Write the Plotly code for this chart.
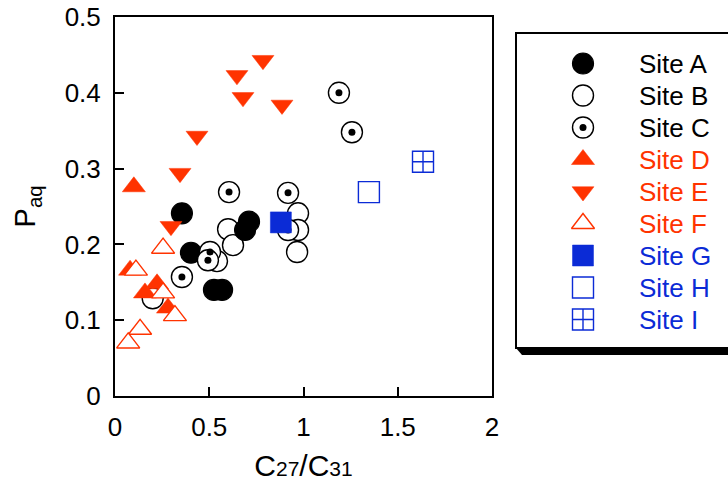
import plotly.graph_objects as go

# ---- data ----
site_a_x = [0.355, 0.403, 0.525, 0.568, 0.711, 0.690]
site_a_y = [0.241, 0.189, 0.140, 0.140, 0.230, 0.219]

site_b_x = [0.200, 0.600, 0.626, 0.541, 0.971, 0.971, 0.966]
site_b_y = [0.129, 0.220, 0.199, 0.178, 0.241, 0.219, 0.190]

site_c_x = [0.355, 0.605, 0.504, 0.493, 0.918, 0.918, 1.188, 1.257]
site_c_y = [0.157, 0.269, 0.190, 0.179, 0.268, 0.219, 0.400, 0.348]

site_d_x = [0.100, 0.223, 0.159, 0.281, 0.080]
site_d_y = [0.276, 0.148, 0.136, 0.116, 0.166]

site_e_x = [0.785, 0.647, 0.679, 0.886, 0.435, 0.345, 0.297]
site_e_y = [0.443, 0.423, 0.394, 0.384, 0.343, 0.294, 0.224]

site_f_x = [0.255, 0.111, 0.255, 0.318, 0.133, 0.070]
site_f_y = [0.195, 0.166, 0.136, 0.106, 0.088, 0.070]

site_g_x = [0.880]
site_g_y = [0.229]

site_h_x = [1.347]
site_h_y = [0.269]

site_i_x = [1.634]
site_i_y = [0.309]

x_ticks = [0, 0.5, 1, 1.5, 2]
x_tick_labels = ["0", "0.5", "1", "1.5", "2"]
y_ticks = [0, 0.1, 0.2, 0.3, 0.4, 0.5]
y_tick_labels = ["0", "0.1", "0.2", "0.3", "0.4", "0.5"]

legend_names = ["Site A", "Site B", "Site C", "Site D", "Site E",
                "Site F", "Site G", "Site H", "Site I"]

# ---- styles ----
RED = "#ff3300"
BLUE = "#0b2bd6"
BLACK = "#000000"
FONT = "Liberation Sans, Arial, sans-serif"

W, H = 728, 490
# plot area in pixels
PX0, PX1, PY0, PY1 = 115, 492, 17, 396

styles = {
    "Site A": dict(symbol="circle", size=21, color=BLACK, line=dict(color=BLACK, width=1.2)),
    "Site B": dict(symbol="circle", size=21, color="white", line=dict(color=BLACK, width=1.4)),
    "Site C": dict(symbol="circle", size=21, color="white", line=dict(color=BLACK, width=1.4)),
    "Site D": dict(symbol="triangle-up", size=20, color=RED, line=dict(color=RED, width=0.5)),
    "Site E": dict(symbol="triangle-down", size=19, color=RED, line=dict(color=RED, width=0.5)),
    "Site F": dict(symbol="triangle-up", size=20, color="white", line=dict(color=RED, width=1.4)),
    "Site G": dict(symbol="square", size=21, color=BLUE, line=dict(color=BLUE, width=0.5)),
    "Site H": dict(symbol="square", size=21, color="white", line=dict(color=BLUE, width=1.4)),
    "Site I": dict(symbol="square-cross-open", size=21, color=BLUE, line=dict(color=BLUE, width=1.4)),
}
text_colors = {"Site A": BLACK, "Site B": BLACK, "Site C": BLACK,
               "Site D": RED, "Site E": RED, "Site F": RED,
               "Site G": BLUE, "Site H": BLUE, "Site I": BLUE}
dot_style = dict(symbol="circle", size=7, color=BLACK, line=dict(width=0))

data = {
    "Site A": (site_a_x, site_a_y), "Site B": (site_b_x, site_b_y),
    "Site C": (site_c_x, site_c_y), "Site D": (site_d_x, site_d_y),
    "Site E": (site_e_x, site_e_y), "Site F": (site_f_x, site_f_y),
    "Site G": (site_g_x, site_g_y), "Site H": (site_h_x, site_h_y),
    "Site I": (site_i_x, site_i_y),
}

fig = go.Figure()
draw_order = ["Site B", "Site A", "Site C", "Site D", "Site F",
              "Site E", "Site G", "Site H", "Site I"]
for name in draw_order:
    xs, ys = data[name]
    fig.add_trace(go.Scatter(x=xs, y=ys, mode="markers", name=name,
                             marker=styles[name], showlegend=False,
                             xaxis="x", yaxis="y", hoverinfo="skip"))
    if name == "Site C":
        fig.add_trace(go.Scatter(x=xs, y=ys, mode="markers", marker=dot_style,
                                 showlegend=False, xaxis="x", yaxis="y",
                                 hoverinfo="skip"))

# ---- custom legend drawn on an auxiliary axis ----
LX0, LX1, LY0, LY1 = 516, 728, 33, 348
row0, row_step = 63.5, 32.0
leg_idx = list(range(len(legend_names)))
marker_col = (583 - LX0) / (LX1 - LX0)
text_col = (637 - LX0) / (LX1 - LX0)
for i, name in zip(leg_idx, legend_names):
    fig.add_trace(go.Scatter(x=[marker_col], y=[i], mode="markers",
                             marker=styles[name], showlegend=False,
                             xaxis="x2", yaxis="y2", hoverinfo="skip"))
    if name == "Site C":
        fig.add_trace(go.Scatter(x=[marker_col], y=[i], mode="markers",
                                 marker=dot_style, showlegend=False,
                                 xaxis="x2", yaxis="y2", hoverinfo="skip"))
    fig.add_annotation(x=text_col, y=i, xref="x2", yref="y2", text=name,
                       showarrow=False, xanchor="left", yanchor="middle",
                       font=dict(family=FONT, size=26, color=text_colors[name]))

def px(x):
    return x / W

def py(y):
    return 1 - y / H

# legend box + shadow
fig.add_shape(type="path", xref="paper", yref="paper", layer="below",
              path=f"M {px(LX0)},{py(LY1)} L {px(LX0 + 6)},{py(LY1 + 7)} "
                   f"L {px(760)},{py(LY1 + 7)} L {px(760)},{py(LY1)} Z",
              fillcolor=BLACK, line=dict(width=0))
fig.add_shape(type="rect", xref="paper", yref="paper", layer="below",
              x0=px(LX0), x1=px(745), y0=py(LY1), y1=py(LY0),
              fillcolor="white", line=dict(color=BLACK, width=2))

y_lo = (LY1 - row0) / row_step
y_hi = (LY0 - row0) / row_step

axis_font = dict(family=FONT, size=26, color=BLACK)
fig.update_layout(
    width=W, height=H,
    margin=dict(l=0, r=0, t=0, b=0),
    paper_bgcolor="white", plot_bgcolor="white",
    showlegend=False,
    xaxis=dict(domain=[px(PX0), px(PX1)], range=[0, 2],
               tickvals=x_ticks, ticktext=x_tick_labels,
               ticks="inside", ticklen=9, tickwidth=2, tickcolor=BLACK,
               showline=True, linewidth=2, linecolor=BLACK, mirror=True,
               showgrid=False, zeroline=False, tickfont=axis_font,
               automargin=False, ticklabelstandoff=7,
               title=dict(text="C<span style='font-size:21px'>27</span>/C<span style='font-size:21px'>31</span>",
                          font=dict(family=FONT, size=30, color=BLACK), standoff=14)),
    yaxis=dict(domain=[py(PY1), py(PY0)], range=[0, 0.5],
               tickvals=y_ticks, ticktext=y_tick_labels,
               ticks="inside", ticklen=9, tickwidth=2, tickcolor=BLACK,
               showline=True, linewidth=2, linecolor=BLACK, mirror=True,
               showgrid=False, zeroline=False, tickfont=axis_font,
               automargin=False, ticklabelstandoff=7,
               title=dict(text="P<sub>aq</sub>",
                          font=dict(family=FONT, size=29, color=BLACK), standoff=20)),
    xaxis2=dict(domain=[px(LX0), 1.0], range=[0, 1], visible=False,
                fixedrange=True, anchor="y2"),
    yaxis2=dict(domain=[py(LY1), py(LY0)], range=[y_lo, y_hi], visible=False,
                fixedrange=True, anchor="x2"),
)

fig.write_html("out.html")
